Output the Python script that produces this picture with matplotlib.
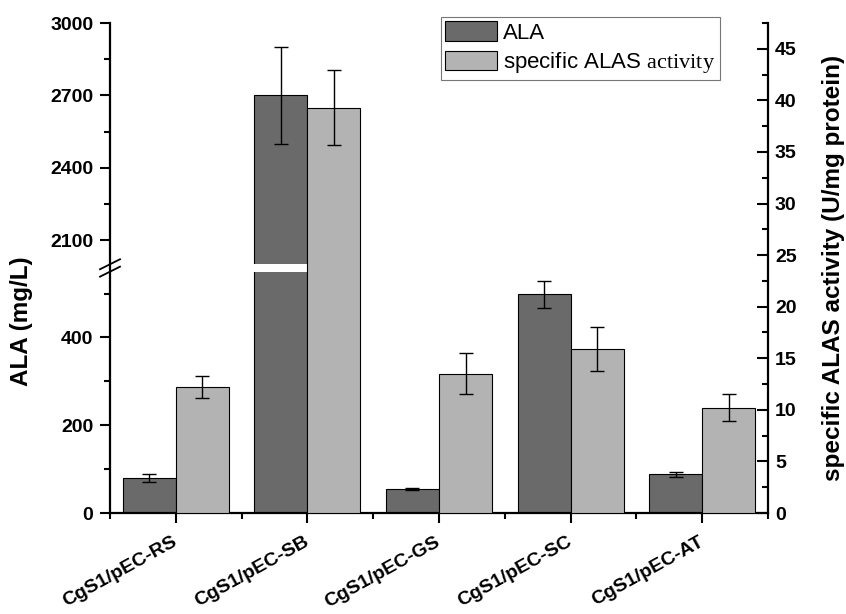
import matplotlib
matplotlib.use('Agg')
import matplotlib.pyplot as plt
import numpy as np
from matplotlib.ticker import FixedLocator

# data
strains = ['CgS1/pEC-RS', 'CgS1/pEC-SB', 'CgS1/pEC-GS', 'CgS1/pEC-SC', 'CgS1/pEC-AT']
ala = np.array([80, 2700, 55, 498, 88])          # mg/L
ala_err = np.array([10, 200, 2.5, 30, 5])
alas = np.array([12.2, 39.3, 13.5, 15.9, 10.2])   # U/mg protein
alas_err = np.array([1.1, 3.6, 2.0, 2.1, 1.3])

left_major = [0, 200, 400, 2100, 2400, 2700, 3000]
left_minor = [100, 300, 500, 2250, 2550, 2850]

# broken left axis: 0-550 and 2000-3000
brk_lo, brk_hi = 550, 2000
k1, kg, k2 = 0.4385, 7.4 / 1450, 0.2411
y1 = brk_lo * k1
y2 = y1 + (brk_hi - brk_lo) * kg


def fwd(v):
    v = np.asarray(v, dtype=float)
    return np.where(v <= brk_lo, v * k1,
                    np.where(v >= brk_hi, y2 + (v - brk_hi) * k2, y1 + (v - brk_lo) * kg))


def inv(u):
    u = np.asarray(u, dtype=float)
    return np.where(u <= y1, u / k1,
                    np.where(u >= y2, brk_hi + (u - y2) / k2, brk_lo + (u - y1) / kg))


plt.rcParams['font.family'] = 'Liberation Sans'
plt.rcParams['mathtext.fontset'] = 'custom'
plt.rcParams['mathtext.rm'] = 'Liberation Serif'

dark = '#6a6a6a'
light = '#b3b3b3'

fig = plt.figure(figsize=(8.46, 6.14), dpi=100)
ax = fig.add_axes([110 / 846, 101 / 614, 658 / 846, 490 / 614])
ax.set_yscale('function', functions=(fwd, inv))
ax.set_ylim(0, 3000)
ax.set_xlim(-0.5, 4.5)

x = np.arange(len(strains))
w = 0.403

ax.bar(x - w, ala, w, align='edge', color=dark, edgecolor='black', linewidth=0.8, label='ALA', zorder=2)
big = ala > brk_hi
ax.bar(x[big] - w - 0.01, brk_hi - brk_lo, w + 0.015, bottom=brk_lo, align='edge',
       color='white', linewidth=0, zorder=3)
ax.errorbar(x - w / 2, ala, yerr=ala_err, fmt='none', ecolor='black', elinewidth=1,
            capsize=5, capthick=1, zorder=4)

ax2 = ax.twinx()
ax2.set_ylim(0, 47.5)
ax2.bar(x, alas, w, align='edge', color=light, edgecolor='black', linewidth=0.8,
        label='specific ALAS $\\mathrm{activity}$', zorder=2)
ax2.errorbar(x + w / 2, alas, yerr=alas_err, fmt='none', ecolor='black', elinewidth=1,
             capsize=5, capthick=1, zorder=4)

# axes styling
for s in ['top', 'right']:
    ax.spines[s].set_visible(False)
for s in ['top', 'left', 'bottom']:
    ax2.spines[s].set_visible(False)
for s in ['left', 'bottom']:
    ax.spines[s].set_linewidth(1.6)
ax2.spines['right'].set_linewidth(1.6)

ax.yaxis.set_major_locator(FixedLocator(left_major))
ax.yaxis.set_minor_locator(FixedLocator(left_minor))
ax.set_yticklabels([str(v) for v in left_major])
ax.tick_params(axis='y', which='major', direction='out', length=7, width=1.5, labelsize=14, pad=5)
ax.tick_params(axis='y', which='minor', direction='out', length=4, width=1.5)

ax.set_xticks(x)
ax.xaxis.set_minor_locator(FixedLocator(np.arange(-0.5, 5, 1.0)))
ax.set_xticklabels(strains, rotation=29, ha='right', va='center', rotation_mode='anchor')
ax.tick_params(axis='x', which='major', direction='out', length=7, width=1.5, labelsize=14, pad=13)
ax.tick_params(axis='x', which='minor', direction='out', length=4, width=1.5)

ax2.yaxis.set_major_locator(FixedLocator(np.arange(0, 46, 5)))
ax2.yaxis.set_minor_locator(FixedLocator(np.arange(2.5, 48, 5)))
ax2.tick_params(axis='y', which='major', direction='in', length=8, width=1.5, labelsize=14, pad=5)
ax2.tick_params(axis='y', which='minor', direction='in', length=4, width=1.5)

for lab in ax.get_yticklabels() + ax.get_xticklabels() + ax2.get_yticklabels():
    lab.set_fontweight('bold')

ax.set_ylabel('ALA (mg/L)', fontsize=17.5, fontweight='bold')
ax.yaxis.set_label_coords(-0.117, 0.392)
ax2.set_ylabel('specific ALAS activity (U/mg protein)', fontsize=17.5, fontweight='bold')
ax2.yaxis.set_label_coords(1.082, 0.5)

# break marks on the left axis
inv_ax = ax.transAxes.inverted()
for v in (brk_lo, brk_hi):
    ya = inv_ax.transform(ax.transData.transform((0, v)))[1]
    ax.plot([-0.0152, 0.0152], [ya - 0.0102, ya + 0.0102], transform=ax.transAxes,
            color='black', lw=1.3, clip_on=False, zorder=5)

h1, l1 = ax.get_legend_handles_labels()
h2, l2 = ax2.get_legend_handles_labels()
leg = ax2.legend(h1 + h2, l1 + l2, loc='upper left', bbox_to_anchor=(441 / 846, 1 - 17 / 614),
                 bbox_transform=fig.transFigure, fontsize=16, frameon=True, fancybox=False,
                 framealpha=1, edgecolor='#777777', borderpad=0.2, labelspacing=0.3,
                 handlelength=2.3, handleheight=0.95, handletextpad=0.3, borderaxespad=0)
leg.get_frame().set_linewidth(0.8)

fig.savefig('out.png', dpi=100)
